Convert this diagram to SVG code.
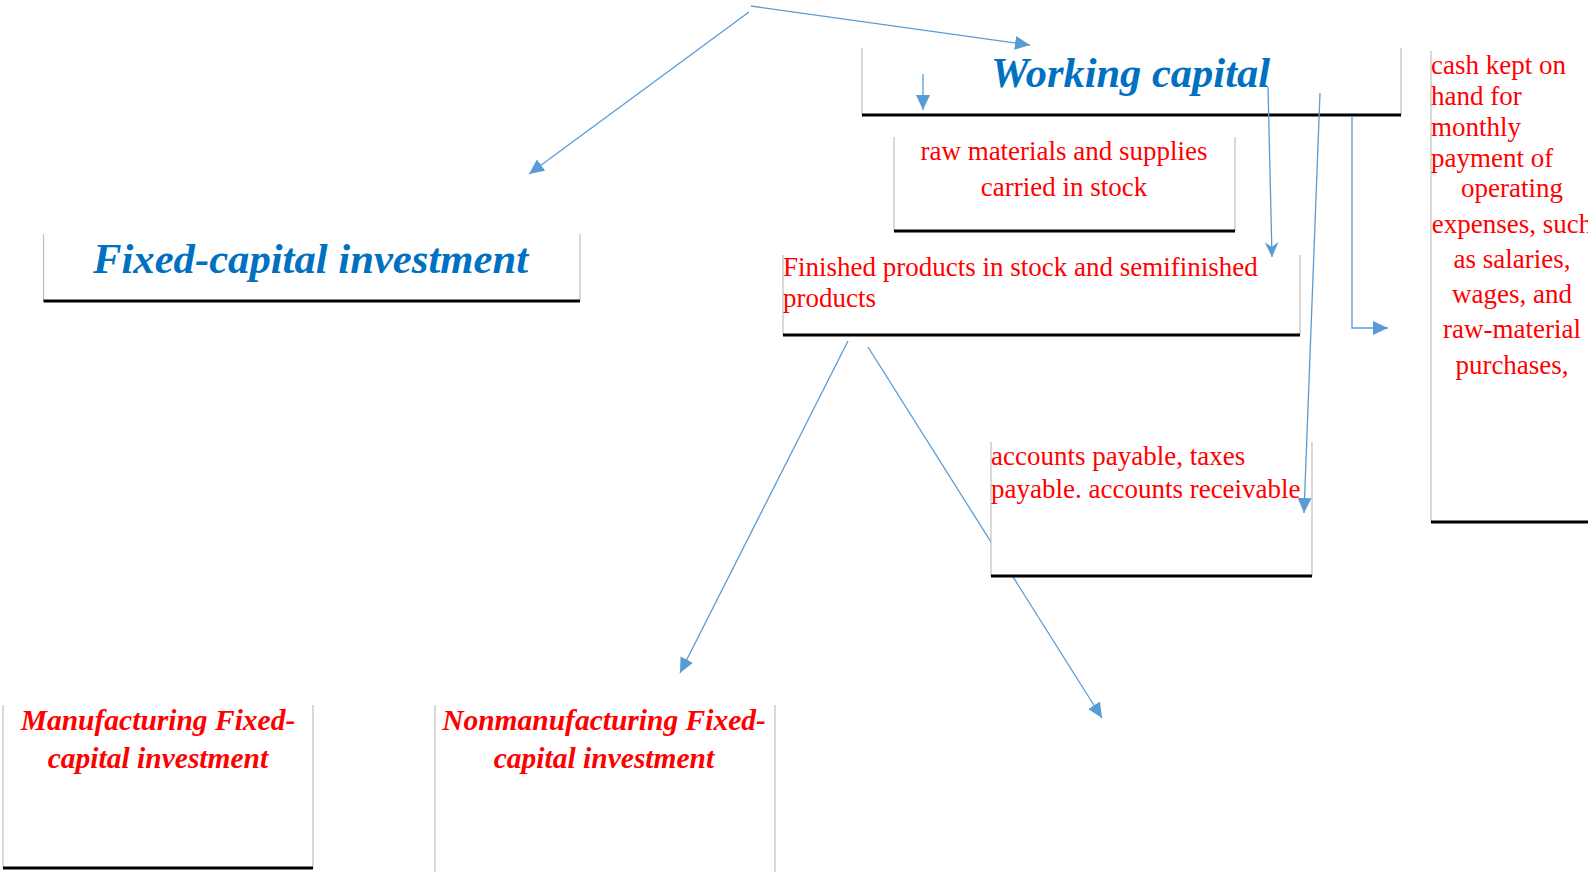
<svg xmlns="http://www.w3.org/2000/svg" width="1588" height="872" viewBox="0 0 1588 872">
<style>
  .bg{fill:#ffffff;stroke:none}
  .side{stroke:#BFBFBF;stroke-width:1.2;fill:none}
  .base{stroke:#000000;stroke-width:3.2;fill:none}
  .title{font-family:"Liberation Serif","Times New Roman",serif;font-weight:bold;font-style:italic;fill:#0070C0}
  .sub{font-family:"Liberation Serif","Times New Roman",serif;font-weight:bold;font-style:italic;fill:#FF0000;font-size:29.5px}
  .red{font-family:"Liberation Serif","Times New Roman",serif;fill:#FF0000;font-size:27px}
  .conn{stroke:#5B9BD5;stroke-width:1.3;fill:none}
</style>
<defs>
  <marker id="tri" markerUnits="userSpaceOnUse" markerWidth="15" markerHeight="14" refX="15" refY="7" orient="auto">
    <path d="M0,0 L15,7 L0,14 z" fill="#5B9BD5"/>
  </marker>
  <marker id="notch" markerUnits="userSpaceOnUse" markerWidth="15" markerHeight="14" refX="15" refY="7" orient="auto">
    <path d="M0,0 L15,7 L0,14 L5,7 z" fill="#5B9BD5"/>
  </marker>
</defs>
<rect x="0" y="0" width="1588" height="872" fill="#ffffff"/>

<g id="connectors-under">
  <line class="conn" x1="868" y1="347" x2="1102" y2="718" marker-end="url(#tri)"/>
</g>

<g id="node-fixed">
  <rect class="bg" x="43.5" y="234" width="536.5" height="67"/>
  <line class="side" x1="43.5" y1="234" x2="43.5" y2="301"/>
  <line class="side" x1="580" y1="234" x2="580" y2="301"/>
  <line class="base" x1="43.5" y1="301" x2="580" y2="301"/>
  <text class="title" x="93" y="273" font-size="42" textLength="435" lengthAdjust="spacingAndGlyphs">Fixed-capital investment</text>
</g>

<g id="node-working">
  <rect class="bg" x="862" y="48" width="539" height="67"/>
  <line class="side" x1="862" y1="48" x2="862" y2="115"/>
  <line class="side" x1="1401" y1="48" x2="1401" y2="115"/>
  <line class="base" x1="862" y1="115" x2="1401" y2="115"/>
  <text class="title" x="991" y="87" font-size="42" textLength="279" lengthAdjust="spacingAndGlyphs">Working capital</text>
</g>

<g id="node-raw">
  <rect class="bg" x="894" y="137" width="341" height="94"/>
  <line class="side" x1="894" y1="137" x2="894" y2="231"/>
  <line class="side" x1="1235" y1="137" x2="1235" y2="231"/>
  <line class="base" x1="894" y1="231" x2="1235" y2="231"/>
  <text class="red" text-anchor="middle" font-size="28" x="1064" y="160">raw materials and supplies</text>
  <text class="red" text-anchor="middle" font-size="28" x="1064" y="196">carried in stock</text>
</g>

<g id="node-finished">
  <rect class="bg" x="783" y="255" width="517" height="80"/>
  <line class="side" x1="783" y1="255" x2="783" y2="335"/>
  <line class="side" x1="1300" y1="255" x2="1300" y2="335"/>
  <line class="base" x1="783" y1="335" x2="1300" y2="335"/>
  <text class="red" font-size="26.6" x="783" y="276">Finished products in stock and semifinished</text>
  <text class="red" font-size="26.6" x="783" y="307">products</text>
</g>

<g id="node-accounts">
  <rect class="bg" x="991" y="442" width="321" height="134"/>
  <line class="side" x1="991" y1="442" x2="991" y2="576"/>
  <line class="side" x1="1312" y1="442" x2="1312" y2="576"/>
  <line class="base" x1="991" y1="576" x2="1312" y2="576"/>
  <text class="red" x="991" y="465">accounts payable, taxes</text>
  <text class="red" x="991" y="498">payable. accounts receivable</text>
</g>

<g id="node-cash">
  <rect class="bg" x="1431" y="51" width="170" height="471"/>
  <line class="side" x1="1431" y1="51" x2="1431" y2="522"/>
  <line class="base" x1="1431" y1="522" x2="1600" y2="522"/>
  <text class="red" x="1431" y="74">cash kept on</text>
  <text class="red" x="1431" y="105">hand for</text>
  <text class="red" x="1431" y="136">monthly</text>
  <text class="red" x="1431" y="167">payment of</text>
  <text class="red" text-anchor="middle" x="1512" y="197">operating</text>
  <text class="red" text-anchor="middle" x="1512" y="233">expenses, such</text>
  <text class="red" text-anchor="middle" x="1512" y="268">as salaries,</text>
  <text class="red" text-anchor="middle" x="1512" y="303">wages, and</text>
  <text class="red" text-anchor="middle" x="1512" y="338">raw-material</text>
  <text class="red" text-anchor="middle" x="1512" y="374">purchases,</text>
</g>

<g id="node-manufacturing">
  <rect class="bg" x="3" y="705" width="310" height="163"/>
  <line class="side" x1="3" y1="705" x2="3" y2="868"/>
  <line class="side" x1="313" y1="705" x2="313" y2="868"/>
  <line class="base" x1="3" y1="868" x2="313" y2="868"/>
  <text class="sub" text-anchor="middle" x="158" y="730">Manufacturing Fixed-</text>
  <text class="sub" text-anchor="middle" x="158" y="768">capital investment</text>
</g>

<g id="node-nonmanufacturing">
  <rect class="bg" x="435" y="705" width="340" height="170"/>
  <line class="side" x1="435" y1="705" x2="435" y2="875"/>
  <line class="side" x1="775" y1="705" x2="775" y2="875"/>
  <text class="sub" text-anchor="middle" x="604" y="730">Nonmanufacturing Fixed-</text>
  <text class="sub" text-anchor="middle" x="604" y="768">capital investment</text>
</g>

<g id="connectors">
  <line class="conn" x1="751" y1="6" x2="1030" y2="45" marker-end="url(#tri)"/>
  <line class="conn" x1="749" y1="12" x2="529" y2="174" marker-end="url(#tri)"/>
  <line class="conn" x1="923" y1="74" x2="923" y2="110" marker-end="url(#tri)"/>
  <line class="conn" x1="1268" y1="87" x2="1272" y2="257" marker-end="url(#notch)"/>
  <line class="conn" x1="1320" y1="93" x2="1304" y2="513" marker-end="url(#tri)"/>
  <path class="conn" d="M1352,116 V328 H1388" marker-end="url(#tri)"/>
  <line class="conn" x1="848" y1="341" x2="680" y2="673" marker-end="url(#tri)"/>
</g>
</svg>
